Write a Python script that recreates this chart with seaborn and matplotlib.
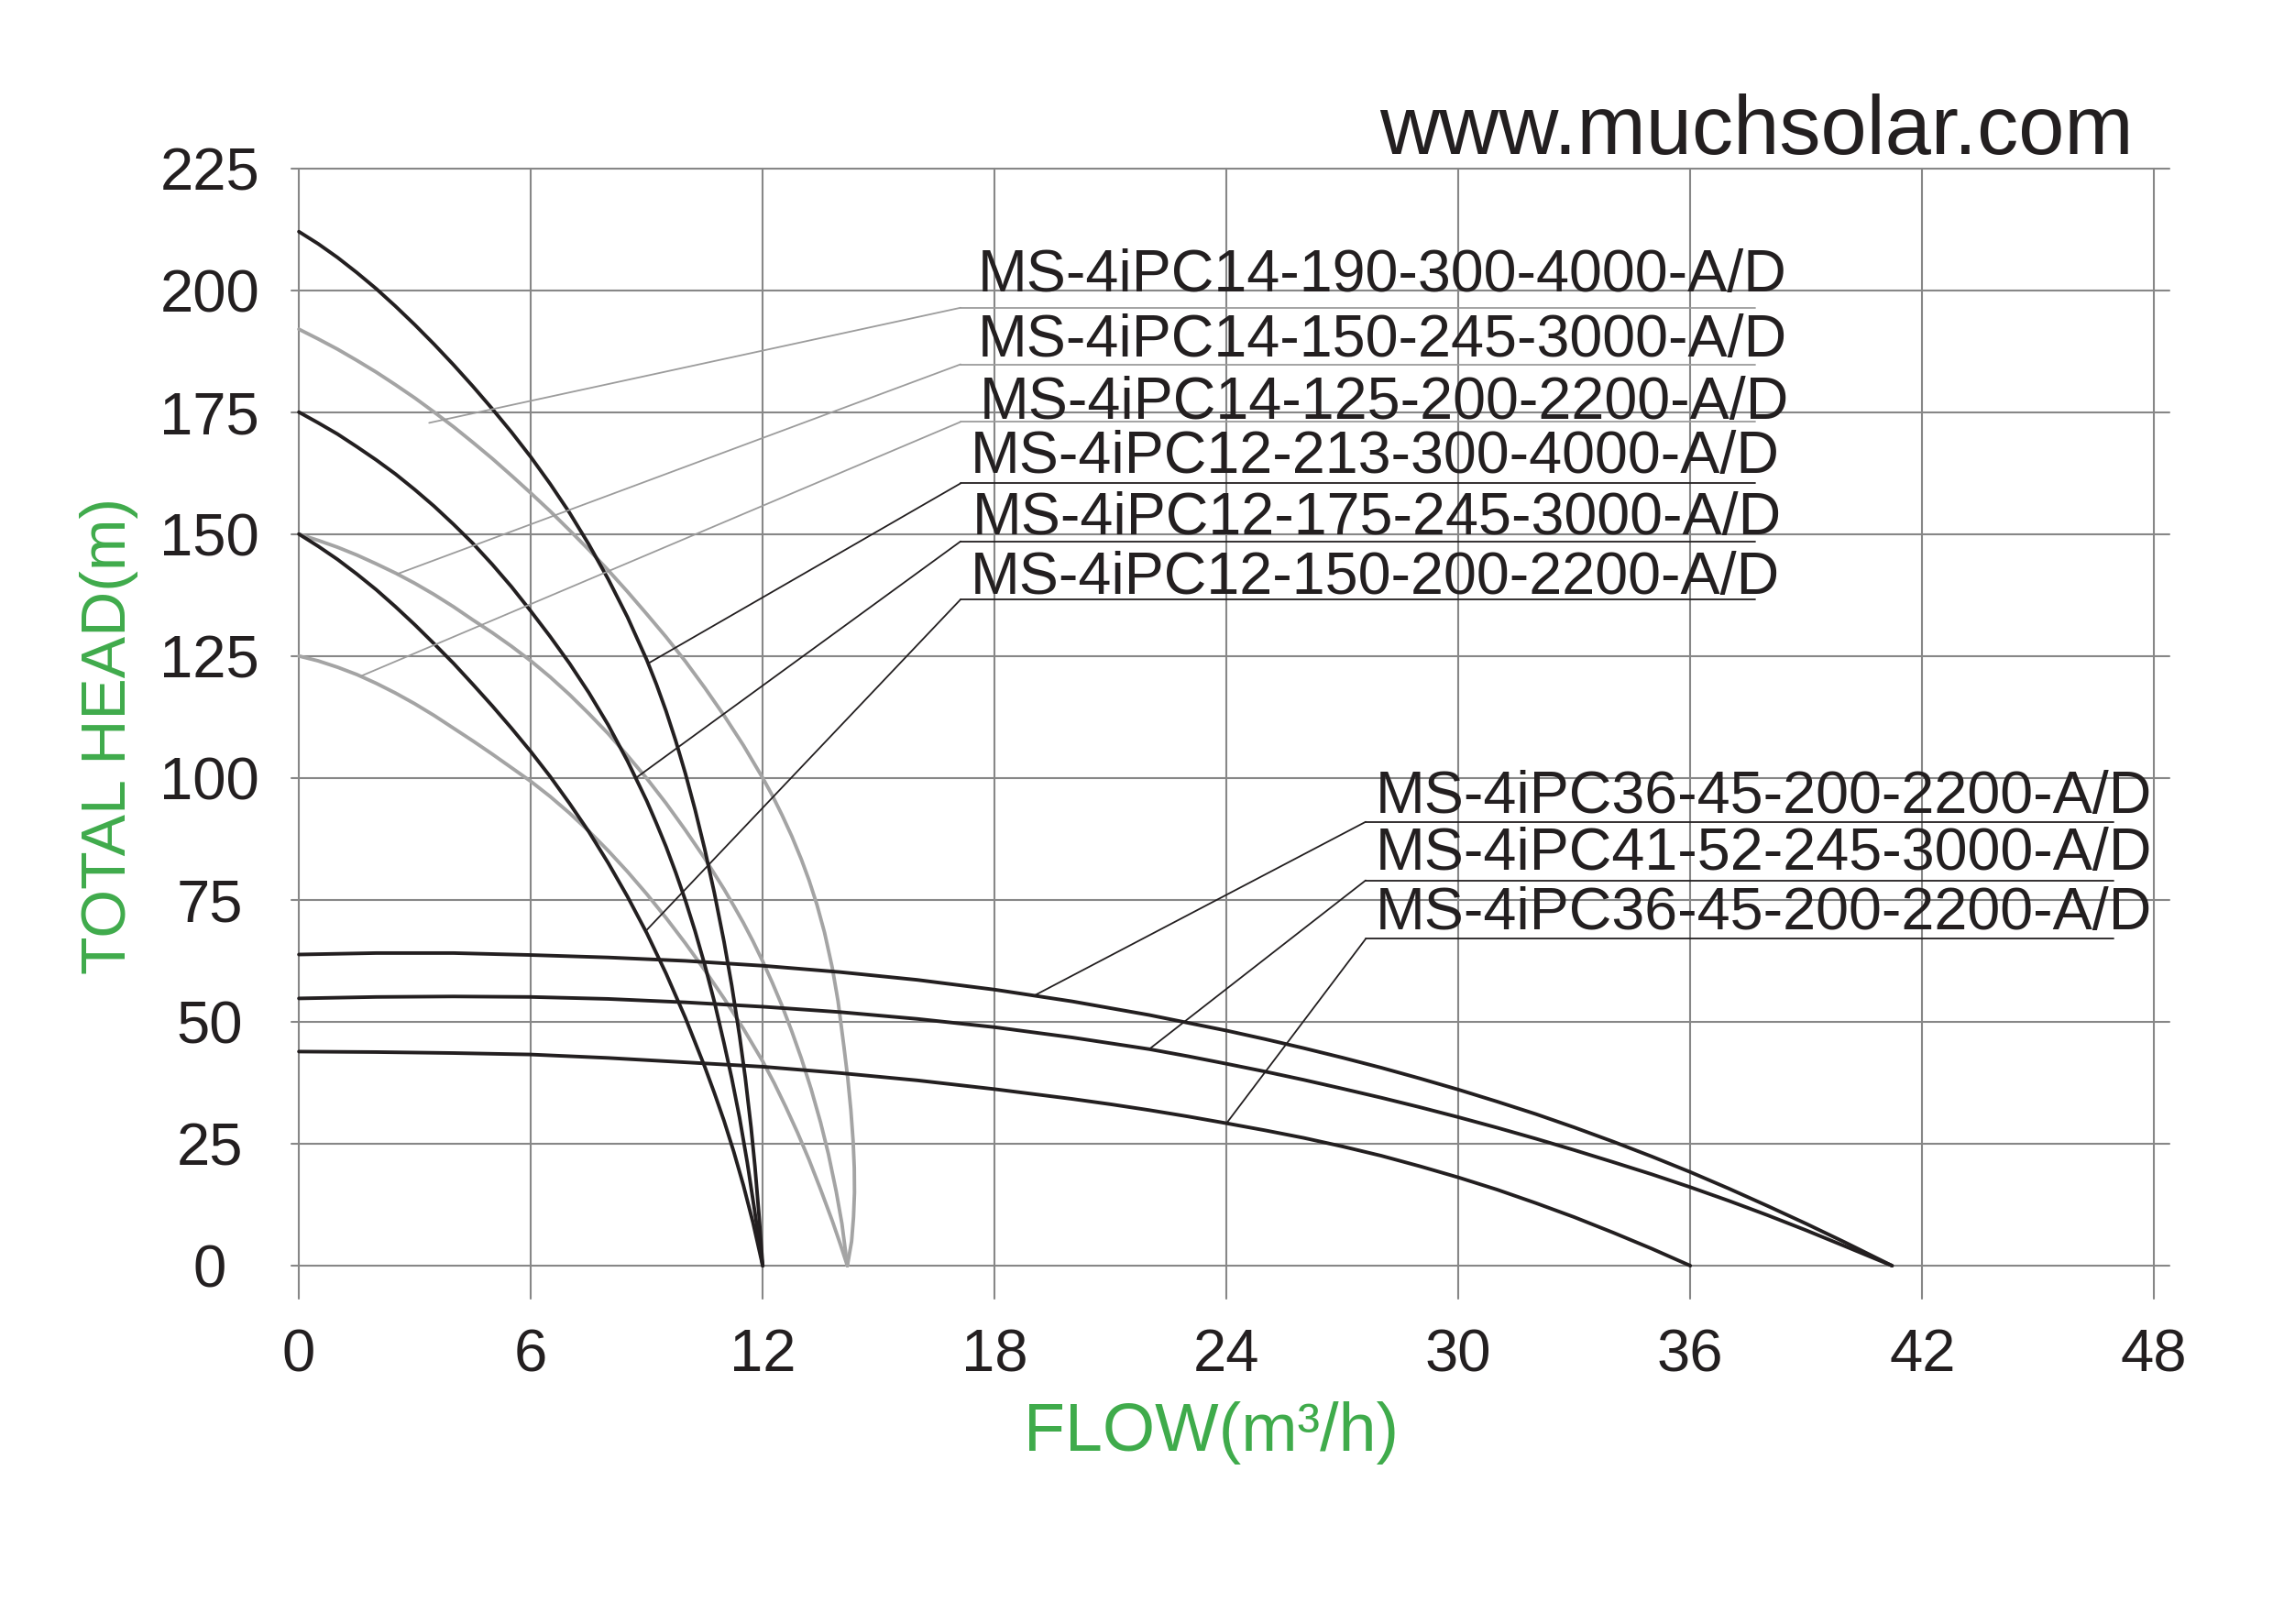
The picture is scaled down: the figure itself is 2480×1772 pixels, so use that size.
import matplotlib
matplotlib.use("Agg")
import matplotlib.pyplot as plt
import pandas as pd
import seaborn as sns

# pump curves: flow (m3/h) vs total head (m)
d1_flow = [0, 0.5, 1, 1.5, 2, 2.5, 3, 3.5, 4, 4.5, 5, 5.5, 6, 6.5, 7, 7.5, 8, 8.5, 9, 9.25, 9.5, 9.75,
           10, 10.25, 10.5, 10.75, 11, 11.2, 11.4, 11.55, 11.7, 11.8, 11.9, 12]
d1_head = [212, 209.5, 206.7, 203.6, 200.3, 196.7, 192.9, 188.9, 184.7, 180.3, 175.7, 170.9, 165.8, 160.3,
           154.4, 147.9, 140.8, 133.0, 124.2, 119.2, 113.7, 107.6, 100.9, 93.5, 85.4, 76.4, 66.4, 57.4,
           47.2, 38.5, 28.3, 20.3, 10.8, 0]

d2_flow = [0, 0.5, 1, 1.5, 2, 2.5, 3, 3.5, 4, 4.5, 5, 5.5, 6, 6.5, 7, 7.5, 8, 8.5, 9, 9.25, 9.5, 9.75,
           10, 10.25, 10.5, 10.75, 11, 11.2, 11.4, 11.6, 11.8, 12]
d2_head = [175, 172.8, 170.5, 167.9, 165.2, 162.3, 159.1, 155.7, 152.0, 148.1, 143.8, 139.2, 134.2, 129.0,
           123.5, 117.5, 110.9, 103.5, 95.3, 90.7, 85.9, 80.6, 74.9, 68.6, 61.7, 54.1, 45.6, 38.4, 30.4,
           21.2, 10.8, 0]

d3_flow = [0, 0.5, 1, 1.5, 2, 2.5, 3, 3.5, 4, 4.5, 5, 5.5, 6, 6.5, 7, 7.5, 8, 8.5, 9, 9.5, 10, 10.5,
           10.75, 11, 11.25, 11.5, 11.75, 12]
d3_head = [150, 147.5, 144.8, 141.8, 138.6, 135.1, 131.4, 127.5, 123.5, 119.2, 114.8, 110.2, 105.4, 100.3,
           94.8, 89.0, 82.6, 75.7, 68.2, 59.9, 50.8, 40.8, 35.4, 29.7, 23.4, 16.5, 8.8, 0]

g1_flow = [0, 0.5, 1, 1.5, 2, 2.5, 3, 3.5, 4, 4.5, 5, 5.5, 6, 6.5, 7, 7.5, 8, 8.5, 9, 9.5, 10, 10.5,
           11, 11.5, 12, 12.25, 12.5, 12.75, 13, 13.2, 13.4, 13.6, 13.8, 13.95, 14.1, 14.2, 14.28, 14.34,
           14.37, 14.375, 14.35, 14.3, 14.245, 14.19]
g1_head = [192, 190, 187.9, 185.6, 183.2, 180.6, 177.9, 175.0, 172.0, 168.8, 165.5, 162.0, 158.4, 154.7,
           150.8, 146.8, 142.6, 138.2, 133.6, 128.9, 123.9, 118.5, 112.8, 106.7, 100, 96.4, 92.4, 88.1,
           83.3, 79.0, 74.1, 68.3, 61.1, 54.2, 45, 38.5, 32, 25.5, 20, 15, 10, 5, 2.5, 0]

g2_flow = [0, 0.5, 1, 1.5, 2, 2.5, 3, 3.5, 4, 4.5, 5, 5.5, 6, 6.5, 7, 7.5, 8, 8.5, 9, 9.5, 10, 10.5,
           11, 11.25, 11.5, 11.75, 12, 12.25, 12.5, 12.75, 13, 13.25, 13.5, 13.7, 13.9, 14.05, 14.19]
g2_head = [150, 148.7, 147.3, 145.7, 143.9, 142.0, 139.9, 137.6, 135.1, 132.4, 129.8, 127.0, 124.0, 120.7,
           117.1, 113.2, 109.1, 104.6, 99.9, 94.8, 89.3, 83.5, 77.2, 73.8, 70.3, 66.5, 62.4, 58.0, 53.3,
           48.1, 42.5, 36.3, 29.3, 22.9, 15.3, 8.6, 0]

g3_flow = [0, 0.5, 1, 1.5, 2, 2.5, 3, 3.5, 4, 4.5, 5, 5.5, 6, 6.5, 7, 7.5, 8, 8.5, 9, 9.5, 10, 10.5,
           11, 11.5, 12, 12.3, 12.6, 12.9, 13.2, 13.5, 13.8, 14.0, 14.19]
g3_head = [125, 124.0, 122.7, 121.2, 119.4, 117.4, 115.2, 112.8, 110.2, 107.6, 104.9, 102.1, 99.3, 96.2,
           92.8, 89.1, 85.1, 80.8, 76.2, 71.3, 66.1, 60.6, 54.8, 48.6, 41.9, 37.4, 32.5, 27.3, 21.7,
           15.6, 9.2, 4.6, 0]

c1_flow = [0, 2, 4, 6, 8, 10, 12, 14, 16, 18, 20, 22, 24, 25, 26, 27, 28, 29, 30, 31, 32, 33, 34, 35,
           36, 37, 38, 39, 40, 41.22]
c1_head = [63.8, 64.1, 64.1, 63.7, 63.2, 62.5, 61.5, 60.2, 58.6, 56.6, 54.2, 51.4, 48.2, 46.45, 44.6,
           42.65, 40.6, 38.4, 36.1, 33.65, 31.1, 28.35, 25.45, 22.4, 19.2, 15.8, 12.25, 8.6, 4.8, 0]

c2_flow = [0, 2, 4, 6, 8, 10, 12, 14, 16, 18, 20, 22, 23, 24, 25, 26, 27, 28, 29, 30, 31, 32, 33, 34,
           35, 36, 37, 38, 39, 40, 41.22]
c2_head = [54.8, 55.1, 55.2, 55.1, 54.7, 54.0, 53.1, 52.0, 50.6, 48.9, 46.8, 44.4, 42.95, 41.4, 39.8,
           38.1, 36.3, 34.45, 32.5, 30.45, 28.3, 26.05, 23.7, 21.25, 18.75, 16.1, 13.3, 10.35, 7.25, 4.0, 0]

c3_flow = [0, 2, 4, 6, 8, 10, 12, 14, 16, 18, 20, 21, 22, 23, 24, 25, 26, 27, 28, 29, 30, 31, 32, 33,
           34, 35, 36]
c3_head = [43.9, 43.8, 43.6, 43.3, 42.6, 41.7, 40.8, 39.5, 38.0, 36.2, 34.2, 33.1, 31.9, 30.6, 29.2,
           27.75, 26.2, 24.45, 22.55, 20.4, 18.1, 15.6, 12.85, 9.95, 6.8, 3.5, 0]

# model labels with their leader lines
labels = ["MS-4iPC14-190-300-4000-A/D", "MS-4iPC14-150-245-3000-A/D", "MS-4iPC14-125-200-2200-A/D",
          "MS-4iPC12-213-300-4000-A/D", "MS-4iPC12-175-245-3000-A/D", "MS-4iPC12-150-200-2200-A/D",
          "MS-4iPC36-45-200-2200-A/D", "MS-4iPC41-52-245-3000-A/D", "MS-4iPC36-45-200-2200-A/D"]
label_x = [17.57, 17.57, 17.62, 17.37, 17.42, 17.37, 27.86, 27.86, 27.86]
label_base = [199.8, 186.4, 173.6, 162.5, 150.0, 137.8, 92.8, 81.2, 69.0]
line_y = [196.4, 184.8, 173.0, 160.4, 148.5, 136.6, 91.0, 79.0, 67.0]
line_x0 = [17.12] * 6 + [27.6] * 3
line_x1 = [37.68] * 6 + [46.95] * 3
tip_x = [3.37, 2.54, 1.61, 9.04, 8.72, 8.96, 19.03, 22.0, 24.0]
tip_y = [172.8, 141.8, 120.9, 123.5, 100.0, 68.5, 55.4, 44.4, 29.2]

x_ticks = [0, 6, 12, 18, 24, 30, 36, 42, 48]
y_ticks = [0, 25, 50, 75, 100, 125, 150, 175, 200, 225]

DARK = "#231f20"
GREY = "#a4a4a4"
GREEN = "#3fab4b"

sns.set_theme(style="white")
plt.rcParams["font.family"] = ["Liberation Sans", "DejaVu Sans"]

fig = plt.figure(figsize=(24.8, 17.72), dpi=100)
ax = fig.add_axes([0.1281, 0.2002, 0.8264, 0.6962])

curves = [(g1_flow, g1_head, GREY), (g2_flow, g2_head, GREY), (g3_flow, g3_head, GREY),
          (d1_flow, d1_head, DARK), (d2_flow, d2_head, DARK), (d3_flow, d3_head, DARK),
          (c1_flow, c1_head, DARK), (c2_flow, c2_head, DARK), (c3_flow, c3_head, DARK)]
for flow, head, color in curves:
    df = pd.DataFrame({"flow": flow, "head": head})
    sns.lineplot(data=df, x="flow", y="head", sort=False, estimator=None,
                 color=color, linewidth=2.8, ax=ax, zorder=3,
                 solid_joinstyle="round", solid_capstyle="round")

# leader lines + underlines + model names
for i, txt in enumerate(labels):
    lc = "#9c9c9c" if i < 3 else DARK
    ax.plot([line_x0[i], tip_x[i]], [line_y[i], tip_y[i]], color=lc, lw=1.3, zorder=4)
    ax.plot([line_x0[i], line_x1[i]], [line_y[i], line_y[i]], color=lc, lw=1.3, zorder=4)
    ax.text(label_x[i], label_base[i], txt, ha="left", va="baseline",
            fontsize=46.5, color=DARK, zorder=5)

ax.set_xlim(-0.2, 48.4)
ax.set_ylim(-6.8, 225)
ax.set_xticks(x_ticks)
ax.set_yticks(y_ticks)
ax.set_xticklabels([str(v) for v in x_ticks])
ax.set_yticklabels([str(v) for v in y_ticks])
ax.set_xlabel("")
ax.set_ylabel("")
ax.tick_params(axis="both", length=0, labelsize=47, labelcolor=DARK)
ax.tick_params(axis="x", pad=23)
ax.tick_params(axis="y", pad=64)
plt.setp(ax.get_yticklabels(), ha="center")
for s in ax.spines.values():
    s.set_visible(False)
ax.grid(True, color="#878787", linewidth=1.5, zorder=0)
ax.set_axisbelow(True)
for gl in ax.xaxis.get_gridlines() + ax.yaxis.get_gridlines():
    gl.set_clip_on(False)

ax.text(23.6, -38.0, "FLOW(m³/h)", ha="center", va="baseline", fontsize=53, color=GREEN)
ax.text(-4.91, 108.6, "TOTAL HEAD(m)", rotation=90, ha="center", va="center",
        fontsize=49, color=GREEN)
ax.text(47.47, 227.9, "www.muchsolar.com", ha="right", va="baseline", fontsize=65, color=DARK)

fig.savefig("out.png", dpi=100)
